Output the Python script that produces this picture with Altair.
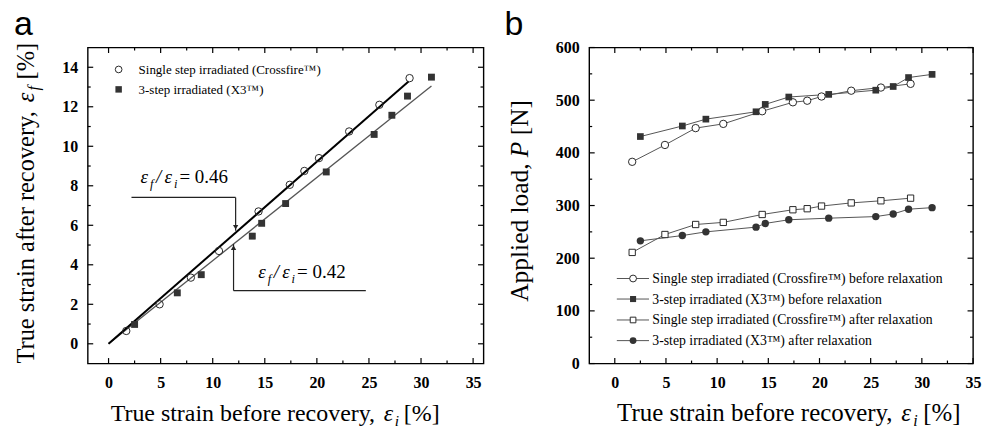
import altair as alt
import pandas as pd

SERIF = "Liberation Serif"
SANS = "Liberation Sans"

# ---------------- data: panel a ----------------
strain_single = [1.7, 4.9, 7.9, 10.6, 14.4, 17.4, 18.8, 20.2, 23.1, 26.0, 28.9]
recov_single = [0.65, 2.0, 3.35, 4.7, 6.7, 8.05, 8.75, 9.4, 10.75, 12.1, 13.45]
strain_x3 = [2.5, 6.6, 8.9, 13.8, 14.7, 17.0, 20.9, 25.5, 27.2, 28.7, 31.0]
recov_x3 = [0.98, 2.58, 3.5, 5.45, 6.1, 7.1, 8.7, 10.6, 11.57, 12.54, 13.5]
fit_single_x = [0.0, 28.8]
fit_single_y = [0.0, 13.28]
fit_x3_x = [0.0, 31.0]
fit_x3_y = [0.0, 13.05]
names_a = ["Single step irradiated (Crossfire\u2122)", "3-step irradiated (X3\u2122)"]
ratio_values = ["= 0.46", "= 0.42"]
# annotation leader lines (data units)
lead_h_x = [2.2, 12.0]
lead_h_x2 = [12.2, 24.7]
lead_h_y = [7.41, 2.69]
lead_v_x = [12.2, 12.0]
lead_v_tip = [5.72, 5.05]
lead_head = [5.9, 4.87]

# ---------------- data: panel b ----------------
load_single_before = [383, 415, 447, 455, 479, 496, 499, 507, 518, 524, 531]
load_x3_before = [431, 451, 464, 478, 492, 506, 511, 519, 526, 543, 549]
load_single_after = [211, 245, 264, 268, 283, 292, 294, 299, 305, 309, 314]
load_x3_after = [233, 243, 250, 259, 266, 273, 276, 279, 284, 293, 296]
names_b = [
    "Single step irradiated (Crossfire\u2122) before relaxation",
    "3-step irradiated (X3\u2122) before relaxation",
    "Single step irradiated (Crossfire\u2122) after relaxation",
    "3-step irradiated (X3\u2122) after relaxation",
]

# ticks
x_major = [0, 5, 10, 15, 20, 25, 30, 35]
x_minor = [2.5, 7.5, 12.5, 17.5, 22.5, 27.5, 32.5]
ya_major = [0, 2, 4, 6, 8, 10, 12, 14]
ya_minor = [1, 3, 5, 7, 9, 11, 13]
yb_major = [0, 100, 200, 300, 400, 500, 600]
yb_minor = [50, 150, 250, 350, 450, 550]

INK = "#2a2a2a"


def one(s):
    return pd.DataFrame({"t": [s]})


def txt(s, x, y, size, style="normal", align="left", angle=0, font=SERIF, weight="normal"):
    return alt.Chart(one(s)).mark_text(
        align=align, baseline="alphabetic", font=font, fontSize=size,
        fontStyle=style, fontWeight=weight, angle=angle, color="black"
    ).encode(x=alt.value(x), y=alt.value(y), text="t:N")


def axis(values, pad):
    return alt.Axis(values=values, ticks=False, domain=False, grid=False, labelFont=SERIF,
                    labelFontSize=16, labelFontWeight="bold", labelColor="black",
                    labelPadding=pad, labelFlush=False, title=None)


def tick_layers(W, H, X, Y):
    out = []
    for xv, L in ((x_major, 5.5), (x_minor, 3)):
        df = pd.DataFrame({"v": xv})
        out.append(alt.Chart(df).mark_rule(color="black", strokeWidth=1.2).encode(
            x=X("v"), y=alt.value(H), y2=alt.value(H - L)))
        out.append(alt.Chart(df).mark_rule(color="black", strokeWidth=1.2).encode(
            x=X("v"), y=alt.value(0), y2=alt.value(L)))
    return out


def ytick_layers(W, Y, major, minor):
    out = []
    for yv, L in ((major, 5.5), (minor, 3)):
        df = pd.DataFrame({"v": yv})
        out.append(alt.Chart(df).mark_rule(color="black", strokeWidth=1.2).encode(
            y=Y("v"), x=alt.value(0), x2=alt.value(L)))
        out.append(alt.Chart(df).mark_rule(color="black", strokeWidth=1.2).encode(
            y=Y("v"), x=alt.value(W), x2=alt.value(W - L)))
    return out


# ================= panel a =================
W_A, H_A = 397, 317
xs_a = alt.Scale(domain=[-2, 36], nice=False, zero=False)
ys_a = alt.Scale(domain=[-1, 15], nice=False, zero=False)
axx_a = axis(x_major, 11)
axy_a = axis(ya_major, 10)


def XA(f):
    return alt.X(f, type="quantitative", scale=xs_a, axis=axx_a)


def YA(f):
    return alt.Y(f, type="quantitative", scale=ys_a, axis=axy_a)


la = []
la.append(alt.Chart(pd.DataFrame({"x": fit_x3_x, "y": fit_x3_y})).mark_line(
    color="#555", strokeWidth=1.3).encode(x=XA("x"), y=YA("y")))
la.append(alt.Chart(pd.DataFrame({"x": fit_single_x, "y": fit_single_y})).mark_line(
    color="black", strokeWidth=2).encode(x=XA("x"), y=YA("y")))
la.append(alt.Chart(pd.DataFrame({"x": strain_single, "y": recov_single})).mark_point(
    shape="circle", filled=False, color=INK, size=55, strokeWidth=1, opacity=1).encode(
    x=XA("x"), y=YA("y")))
la.append(alt.Chart(pd.DataFrame({"x": strain_x3, "y": recov_x3})).mark_point(
    shape="square", filled=True, color="#333", size=48, opacity=1).encode(
    x=XA("x"), y=YA("y")))
# leader lines
lead = pd.DataFrame({"x": lead_h_x, "x2": lead_h_x2, "y": lead_h_y})
la.append(alt.Chart(lead).mark_rule(color="#222", strokeWidth=1.2).encode(
    x=XA("x"), x2=alt.X2("x2"), y=YA("y")))
leadv = pd.DataFrame({"x": lead_v_x, "y": lead_h_y, "y2": lead_v_tip})
la.append(alt.Chart(leadv).mark_rule(color="#222", strokeWidth=1.2).encode(
    x=XA("x"), y=YA("y"), y2=alt.Y2("y2")))
heads = pd.DataFrame({"x": lead_v_x, "y": lead_head, "s": ["triangle-down", "triangle-up"]})
for i in range(2):
    la.append(alt.Chart(heads.iloc[[i]]).mark_point(
        shape=heads["s"][i], filled=True, color="#222", size=28, opacity=1).encode(
        x=XA("x"), y=YA("y")))
# ratio labels
for (bx, by), val in zip(((53, 136), (171, 231)), ratio_values):
    la.append(txt("\u03b5", bx, by, 19, style="italic"))
    la.append(txt("f", bx + 9.5, by + 5, 12.5, style="italic"))
    la.append(txt("/", bx + 15.5, by, 19, style="italic"))
    la.append(txt("\u03b5", bx + 24, by, 19, style="italic"))
    la.append(txt("i", bx + 33.5, by + 5, 12.5, style="italic"))
    la.append(txt(val, bx + 39, by, 19))
# ticks
la += tick_layers(W_A, H_A, XA, YA)
la += ytick_layers(W_A, YA, ya_major, ya_minor)
# legend
la.append(alt.Chart(one(names_a[0])).mark_point(
    shape="circle", filled=False, color=INK, size=45, strokeWidth=1, opacity=1).encode(
    x=alt.value(31), y=alt.value(22)))
la.append(alt.Chart(one(names_a[1])).mark_point(
    shape="square", filled=True, color="#333", size=42, opacity=1).encode(
    x=alt.value(31), y=alt.value(42)))
la.append(txt(names_a[0], 51, 26.5, 13))
la.append(txt(names_a[1], 51, 46.5, 13))
# axis titles
la.append(txt("True strain before recovery,", 23, 375, 24))
la.append(txt("\u03b5", 297, 375, 24, style="italic"))
la.append(txt("i", 308, 380, 15.5, style="italic"))
la.append(txt("[%]", 317, 375, 24))
la.append(txt("True strain after recovery,", -54, 317, 24.5, angle=270))
la.append(txt("\u03b5", -54, 55, 24.5, style="italic", angle=270))
la.append(txt("f", -49, 43, 16, style="italic", angle=270))
la.append(txt("[%]", -54, 32, 24.5, angle=270))
# panel letter and layout anchor
la.append(txt("a", -74, -13, 34, font=SANS))
la.append(alt.Chart(one("")).mark_point(size=0, opacity=0, strokeWidth=0).encode(
    x=alt.value(-87), y=alt.value(-46)))

panel_a = alt.layer(*la).properties(width=W_A, height=H_A)

# ================= panel b =================
W_B, H_B = 385, 317
xs_b = alt.Scale(domain=[-2.5, 35], nice=False, zero=False)
ys_b = alt.Scale(domain=[0, 600], nice=False, zero=False)
axx_b = axis(x_major, 11)
axy_b = axis(yb_major, 10)


def XB(f):
    return alt.X(f, type="quantitative", scale=xs_b, axis=axx_b)


def YB(f):
    return alt.Y(f, type="quantitative", scale=ys_b, axis=axy_b)


series_b = [
    (strain_single, load_single_before),
    (strain_x3, load_x3_before),
    (strain_single, load_single_after),
    (strain_x3, load_x3_after),
]
marker_b = [("circle", False, 55), ("square", True, 45), ("square", False, 40), ("circle", True, 55)]


def marker(ch, shape, filled, size):
    if filled:
        return ch.mark_point(shape=shape, filled=True, color="#333", size=size, opacity=1)
    return ch.mark_point(shape=shape, filled=False, fill="white", fillOpacity=1, stroke=INK,
                         strokeWidth=1, size=size, opacity=1)


lb = []
for (xv, yv), (shape, filled, size) in zip(series_b, marker_b):
    df = pd.DataFrame({"x": xv, "y": yv})
    lb.append(alt.Chart(df).mark_line(color="#555", strokeWidth=1).encode(
        x=XB("x"), y=YB("y"), order="x:Q"))
for (xv, yv), (shape, filled, size) in zip(series_b, marker_b):
    df = pd.DataFrame({"x": xv, "y": yv})
    lb.append(marker(alt.Chart(df), shape, filled, size).encode(x=XB("x"), y=YB("y")))
lb += tick_layers(W_B, H_B, XB, YB)
lb += ytick_layers(W_B, YB, yb_major, yb_minor)
# legend
row_y = [231.7, 252.3, 273.3, 294.0]
for name, (shape, filled, size), cy in zip(names_b, marker_b, row_y):
    lb.append(alt.Chart(one(name)).mark_rule(color="#555", strokeWidth=1).encode(
        x=alt.value(27.7), x2=alt.value(60), y=alt.value(cy)))
    lb.append(marker(alt.Chart(one(name)), shape, filled, size - 8).encode(
        x=alt.value(44), y=alt.value(cy)))
    lb.append(txt(name, 63.3, cy + 4.5, 13.8))
# axis titles
lb.append(txt("True strain before recovery,", 28, 375, 25))
lb.append(txt("\u03b5", 313, 375, 25, style="italic"))
lb.append(txt("i", 325, 380, 16, style="italic"))
lb.append(txt("[%]", 335, 375, 25))
lb.append(txt("Applied load,", -61, 255, 25.5, angle=270))
lb.append(txt("P", -61, 110, 25.5, style="italic", angle=270))
lb.append(txt("[N]", -61, 88, 25.5, angle=270))
lb.append(txt("b", -85, -13, 34, font=SANS))

panel_b = alt.layer(*lb).properties(width=W_B, height=H_B)

chart = alt.hconcat(panel_a, panel_b, spacing=106, bounds="flush").properties(
    autosize=alt.AutoSizeParams(type="pad"), padding=0, background="white"
).configure_view(stroke="black", strokeWidth=1.4)

chart.save("out.html", embed_options={"renderer": "svg", "actions": False})
